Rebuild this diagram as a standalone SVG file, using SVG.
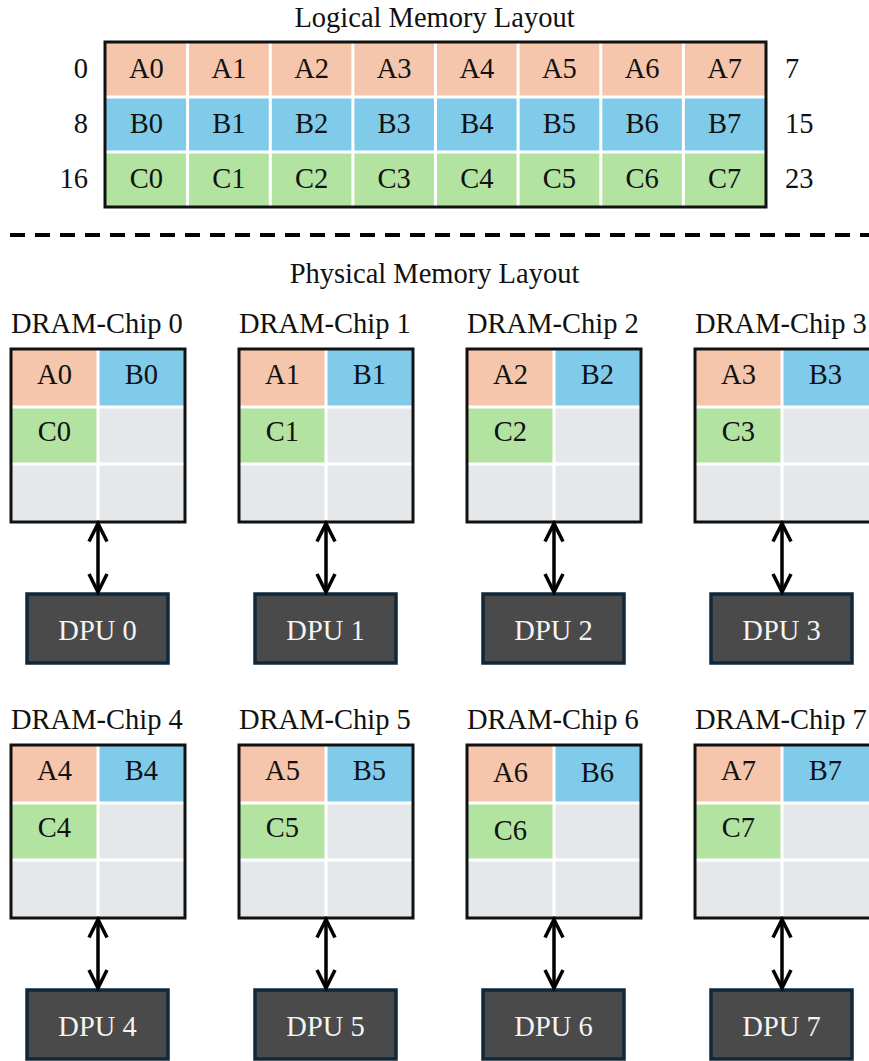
<svg xmlns="http://www.w3.org/2000/svg" width="869" height="1061" viewBox="0 0 869 1061">
<style>
text{font-family:"Liberation Serif","Times New Roman",serif;font-size:28.5px;fill:#111}
.c{text-anchor:middle}
.e{text-anchor:end}
.a{fill:#f5c5ac}
.b{fill:#80cbea}
.g{fill:#b3e3a0}
.n{fill:#e5e8eb}
.sep{stroke:#fff;stroke-width:3}
.bd{fill:none;stroke:#111;stroke-width:3}
.dpu{fill:#4a4a4a;stroke:#10283a;stroke-width:3.5}
.dt{fill:#f4f4f4;text-anchor:middle}
.cn{stroke:#000;stroke-width:3.5;fill:none;marker-start:url(#ah);marker-end:url(#ah)}
</style>
<defs>
<marker id="ah" viewBox="-22 -12 26 24" refX="0" refY="0" markerWidth="26" markerHeight="24" markerUnits="userSpaceOnUse" orient="auto-start-reverse">
<path d="M-18,-9 L0,0 L-18,9" fill="none" stroke="#000" stroke-width="3.5"/>
</marker>
</defs>
<rect width="869" height="1061" fill="#fff"/>

<g id="logical">
<text class="c" x="434.5" y="27">Logical Memory Layout</text>
<rect class="a" x="105" y="42" width="661" height="55"/>
<rect class="b" x="105" y="97" width="661" height="55"/>
<rect class="g" x="105" y="152" width="661" height="55"/>
<g class="sep">
<line x1="105" y1="97" x2="766" y2="97"/>
<line x1="105" y1="152" x2="766" y2="152"/>
<line x1="187.6" y1="42" x2="187.6" y2="207"/>
<line x1="270.3" y1="42" x2="270.3" y2="207"/>
<line x1="352.9" y1="42" x2="352.9" y2="207"/>
<line x1="435.5" y1="42" x2="435.5" y2="207"/>
<line x1="518.1" y1="42" x2="518.1" y2="207"/>
<line x1="600.8" y1="42" x2="600.8" y2="207"/>
<line x1="683.4" y1="42" x2="683.4" y2="207"/>
</g>
<rect class="bd" x="105" y="42" width="661" height="165"/>
<text class="c" x="146.3" y="78">A0</text><text class="c" x="229" y="78">A1</text><text class="c" x="311.6" y="78">A2</text><text class="c" x="394.2" y="78">A3</text><text class="c" x="476.8" y="78">A4</text><text class="c" x="559.4" y="78">A5</text><text class="c" x="642.1" y="78">A6</text><text class="c" x="724.7" y="78">A7</text>
<text class="c" x="146.3" y="133">B0</text><text class="c" x="229" y="133">B1</text><text class="c" x="311.6" y="133">B2</text><text class="c" x="394.2" y="133">B3</text><text class="c" x="476.8" y="133">B4</text><text class="c" x="559.4" y="133">B5</text><text class="c" x="642.1" y="133">B6</text><text class="c" x="724.7" y="133">B7</text>
<text class="c" x="146.3" y="188">C0</text><text class="c" x="229" y="188">C1</text><text class="c" x="311.6" y="188">C2</text><text class="c" x="394.2" y="188">C3</text><text class="c" x="476.8" y="188">C4</text><text class="c" x="559.4" y="188">C5</text><text class="c" x="642.1" y="188">C6</text><text class="c" x="724.7" y="188">C7</text>
<text class="e" x="88" y="78">0</text><text class="e" x="88" y="133">8</text><text class="e" x="88" y="188">16</text>
<text x="785" y="78">7</text><text x="785" y="133">15</text><text x="785" y="188">23</text>
</g>

<line id="divider" x1="10" y1="235" x2="869" y2="235" stroke="#000" stroke-width="4" stroke-dasharray="15 10"/>
<text class="c" x="434.5" y="283">Physical Memory Layout</text>

<g id="chip0" transform="translate(11,349)">
<text x="0" y="-16">DRAM-Chip 0</text>
<rect class="a" x="0" y="0" width="87" height="58"/><rect class="b" x="87" y="0" width="87" height="58"/>
<rect class="g" x="0" y="58" width="87" height="57"/><rect class="n" x="87" y="58" width="87" height="57"/>
<rect class="n" x="0" y="115" width="174" height="58"/>
<path class="sep" d="M0,58H174M0,115H174M87,0V173"/>
<rect class="bd" x="0" y="0" width="174" height="173"/>
<text class="c" x="43.5" y="35">A0</text><text class="c" x="130.5" y="35">B0</text><text class="c" x="43.5" y="92">C0</text>
</g>
<g id="chip1" transform="translate(239,349)">
<text x="0" y="-16">DRAM-Chip 1</text>
<rect class="a" x="0" y="0" width="87" height="58"/><rect class="b" x="87" y="0" width="87" height="58"/>
<rect class="g" x="0" y="58" width="87" height="57"/><rect class="n" x="87" y="58" width="87" height="57"/>
<rect class="n" x="0" y="115" width="174" height="58"/>
<path class="sep" d="M0,58H174M0,115H174M87,0V173"/>
<rect class="bd" x="0" y="0" width="174" height="173"/>
<text class="c" x="43.5" y="35">A1</text><text class="c" x="130.5" y="35">B1</text><text class="c" x="43.5" y="92">C1</text>
</g>
<g id="chip2" transform="translate(467,349)">
<text x="0" y="-16">DRAM-Chip 2</text>
<rect class="a" x="0" y="0" width="87" height="58"/><rect class="b" x="87" y="0" width="87" height="58"/>
<rect class="g" x="0" y="58" width="87" height="57"/><rect class="n" x="87" y="58" width="87" height="57"/>
<rect class="n" x="0" y="115" width="174" height="58"/>
<path class="sep" d="M0,58H174M0,115H174M87,0V173"/>
<rect class="bd" x="0" y="0" width="174" height="173"/>
<text class="c" x="43.5" y="35">A2</text><text class="c" x="130.5" y="35">B2</text><text class="c" x="43.5" y="92">C2</text>
</g>
<g id="chip3" transform="translate(695,349)">
<text x="0" y="-16">DRAM-Chip 3</text>
<rect class="a" x="0" y="0" width="87" height="58"/><rect class="b" x="87" y="0" width="87" height="58"/>
<rect class="g" x="0" y="58" width="87" height="57"/><rect class="n" x="87" y="58" width="87" height="57"/>
<rect class="n" x="0" y="115" width="174" height="58"/>
<path class="sep" d="M0,58H174M0,115H174M87,0V173"/>
<rect class="bd" x="0" y="0" width="176" height="173"/>
<text class="c" x="43.5" y="35">A3</text><text class="c" x="130.5" y="35">B3</text><text class="c" x="43.5" y="92">C3</text>
</g>

<g id="chip4" transform="translate(11,745)">
<text x="0" y="-16">DRAM-Chip 4</text>
<rect class="a" x="0" y="0" width="87" height="58"/><rect class="b" x="87" y="0" width="87" height="58"/>
<rect class="g" x="0" y="58" width="87" height="57"/><rect class="n" x="87" y="58" width="87" height="57"/>
<rect class="n" x="0" y="115" width="174" height="58"/>
<path class="sep" d="M0,58H174M0,115H174M87,0V173"/>
<rect class="bd" x="0" y="0" width="174" height="173"/>
<text class="c" x="43.5" y="35">A4</text><text class="c" x="130.5" y="35">B4</text><text class="c" x="43.5" y="92">C4</text>
</g>
<g id="chip5" transform="translate(239,745)">
<text x="0" y="-16">DRAM-Chip 5</text>
<rect class="a" x="0" y="0" width="87" height="58"/><rect class="b" x="87" y="0" width="87" height="58"/>
<rect class="g" x="0" y="58" width="87" height="57"/><rect class="n" x="87" y="58" width="87" height="57"/>
<rect class="n" x="0" y="115" width="174" height="58"/>
<path class="sep" d="M0,58H174M0,115H174M87,0V173"/>
<rect class="bd" x="0" y="0" width="174" height="173"/>
<text class="c" x="43.5" y="35">A5</text><text class="c" x="130.5" y="35">B5</text><text class="c" x="43.5" y="92">C5</text>
</g>
<g id="chip6" transform="translate(467,745)">
<text x="0" y="-16">DRAM-Chip 6</text>
<rect class="a" x="0" y="0" width="87" height="58"/><rect class="b" x="87" y="0" width="87" height="58"/>
<rect class="g" x="0" y="58" width="87" height="57"/><rect class="n" x="87" y="58" width="87" height="57"/>
<rect class="n" x="0" y="115" width="174" height="58"/>
<path class="sep" d="M0,58H174M0,115H174M87,0V173"/>
<rect class="bd" x="0" y="0" width="174" height="173"/>
<text class="c" x="43.5" y="37">A6</text><text class="c" x="130.5" y="37">B6</text><text class="c" x="43.5" y="95">C6</text>
</g>
<g id="chip7" transform="translate(695,745)">
<text x="0" y="-16">DRAM-Chip 7</text>
<rect class="a" x="0" y="0" width="87" height="58"/><rect class="b" x="87" y="0" width="87" height="58"/>
<rect class="g" x="0" y="58" width="87" height="57"/><rect class="n" x="87" y="58" width="87" height="57"/>
<rect class="n" x="0" y="115" width="174" height="58"/>
<path class="sep" d="M0,58H174M0,115H174M87,0V173"/>
<rect class="bd" x="0" y="0" width="176" height="173"/>
<text class="c" x="43.5" y="35">A7</text><text class="c" x="130.5" y="35">B7</text><text class="c" x="43.5" y="92">C7</text>
</g>

<g id="dpu0"><rect class="dpu" x="27" y="594" width="141" height="69"/><text class="dt" x="97.5" y="640">DPU 0</text></g>
<g id="dpu1"><rect class="dpu" x="255" y="594" width="141" height="69"/><text class="dt" x="325.5" y="640">DPU 1</text></g>
<g id="dpu2"><rect class="dpu" x="483" y="594" width="141" height="69"/><text class="dt" x="553.5" y="640">DPU 2</text></g>
<g id="dpu3"><rect class="dpu" x="711" y="594" width="141" height="69"/><text class="dt" x="781.5" y="640">DPU 3</text></g>
<g id="dpu4"><rect class="dpu" x="27" y="990" width="141" height="69"/><text class="dt" x="97.5" y="1036">DPU 4</text></g>
<g id="dpu5"><rect class="dpu" x="255" y="990" width="141" height="69"/><text class="dt" x="325.5" y="1036">DPU 5</text></g>
<g id="dpu6"><rect class="dpu" x="483" y="990" width="141" height="69"/><text class="dt" x="553.5" y="1036">DPU 6</text></g>
<g id="dpu7"><rect class="dpu" x="711" y="990" width="141" height="69"/><text class="dt" x="781.5" y="1036">DPU 7</text></g>

<g id="connectors">
<path class="cn" d="M98,523.5V592"/>
<path class="cn" d="M326,523.5V592"/>
<path class="cn" d="M554,523.5V592"/>
<path class="cn" d="M782,523.5V592"/>
<path class="cn" d="M98,919.5V988"/>
<path class="cn" d="M326,919.5V988"/>
<path class="cn" d="M554,919.5V988"/>
<path class="cn" d="M782,919.5V988"/>
</g>
</svg>
